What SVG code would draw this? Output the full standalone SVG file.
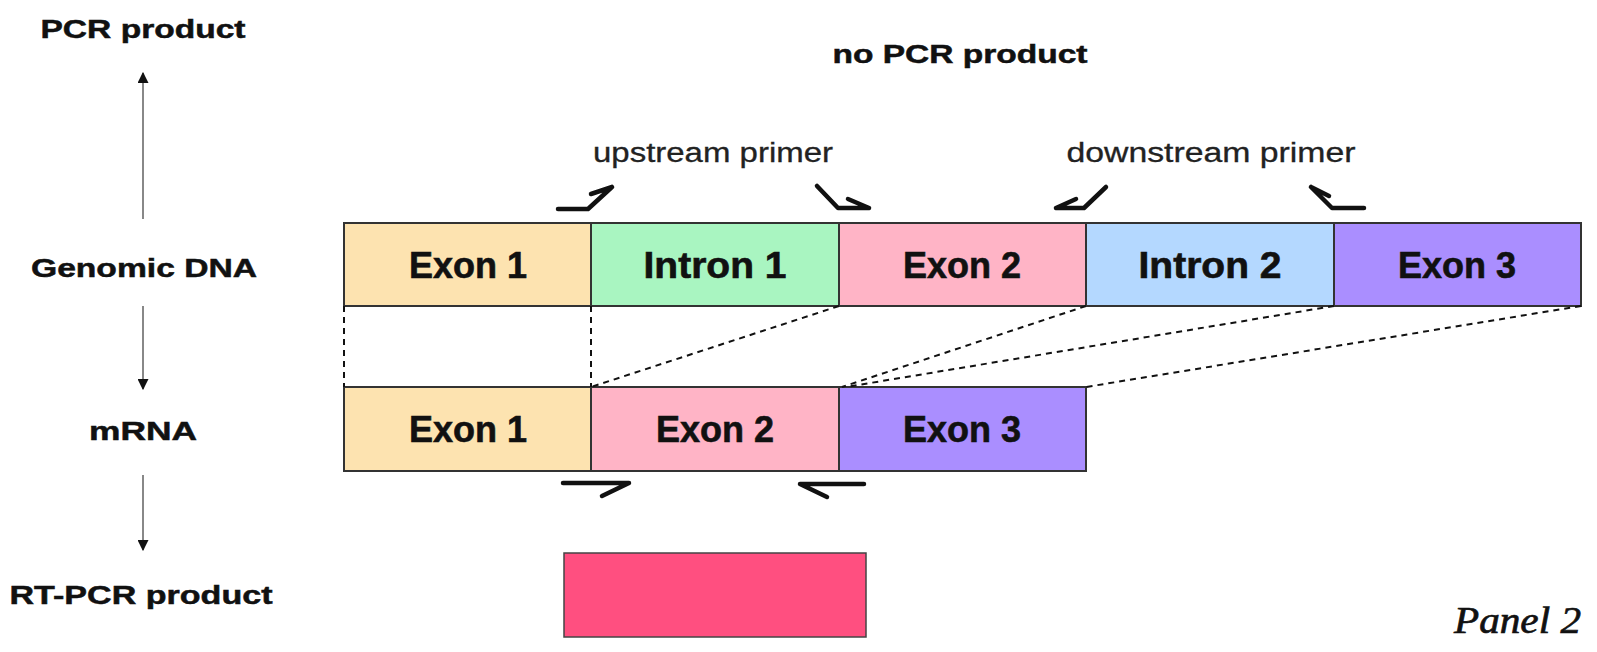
<svg xmlns="http://www.w3.org/2000/svg" width="1597" height="652" viewBox="0 0 1597 652">
  <style>
    .lbl { font-family: "Liberation Sans", Arial, sans-serif; font-weight: bold; font-size: 26px; fill: #111; stroke: #111; stroke-width: 0.5; text-anchor: middle; }
    .seg text { font-family: "Liberation Sans", Arial, sans-serif; font-weight: bold; font-size: 36px; fill: #111; stroke: #111; stroke-width: 0.6; text-anchor: middle; }
    .seg rect { stroke: #333; stroke-width: 2; }
    .primerlbl { font-family: "Liberation Sans", Arial, sans-serif; font-size: 27px; fill: #222; stroke: #222; stroke-width: 0.3; text-anchor: middle; }
    .primer { fill: none; stroke: #111; stroke-width: 4.5; stroke-linecap: round; stroke-linejoin: round; }
    .map { fill: none; stroke: #111; stroke-width: 2; stroke-dasharray: 6 5; }
    .flow { fill: none; stroke: #888; stroke-width: 2; }
    .e1 { fill: #fde3b0; }
    .i1 { fill: #a9f5c1; }
    .e2 { fill: #ffb4c6; }
    .i2 { fill: #b4d8ff; }
    .e3 { fill: #aa8eff; }
  </style>
  <defs>
    <marker id="head" viewBox="0 0 10 10" refX="9" refY="5" markerWidth="11" markerHeight="11" markerUnits="userSpaceOnUse" orient="auto">
      <path d="M0,0 L10,5 L0,10 z" fill="#111"/>
    </marker>
  </defs>

  <rect width="1597" height="652" fill="#fff"/>

  <!-- left column: stage labels -->
  <g id="label-pcr"><text class="lbl" x="143" y="38" textLength="205" lengthAdjust="spacingAndGlyphs">PCR product</text></g>
  <g id="label-genomic"><text class="lbl" x="144" y="277" textLength="226" lengthAdjust="spacingAndGlyphs">Genomic DNA</text></g>
  <g id="label-mrna"><text class="lbl" x="143" y="440" textLength="108" lengthAdjust="spacingAndGlyphs">mRNA</text></g>
  <g id="label-rtpcr"><text class="lbl" x="141" y="604" textLength="263" lengthAdjust="spacingAndGlyphs">RT-PCR product</text></g>
  <g id="label-nopcr"><text class="lbl" x="960" y="63" textLength="255" lengthAdjust="spacingAndGlyphs">no PCR product</text></g>

  <!-- flow arrows between stages -->
  <g id="flow-arrows">
    <line class="flow" x1="143" y1="219" x2="143" y2="73" marker-end="url(#head)"/>
    <line class="flow" x1="143" y1="306" x2="143" y2="389" marker-end="url(#head)"/>
    <line class="flow" x1="143" y1="475" x2="143" y2="550" marker-end="url(#head)"/>
  </g>

  <!-- genomic DNA -->
  <g id="genomic" class="seg">
    <g id="g-exon1"><rect class="e1" x="344" y="223" width="247" height="83"/><text x="468" y="278">Exon 1</text></g>
    <g id="g-intron1"><rect class="i1" x="591" y="223" width="248" height="83"/><text x="715" y="278" textLength="143" lengthAdjust="spacingAndGlyphs">Intron 1</text></g>
    <g id="g-exon2"><rect class="e2" x="839" y="223" width="247" height="83"/><text x="962" y="278">Exon 2</text></g>
    <g id="g-intron2"><rect class="i2" x="1086" y="223" width="248" height="83"/><text x="1210" y="278" textLength="143" lengthAdjust="spacingAndGlyphs">Intron 2</text></g>
    <g id="g-exon3"><rect class="e3" x="1334" y="223" width="247" height="83"/><text x="1457" y="278">Exon 3</text></g>
  </g>

  <!-- mRNA -->
  <g id="mrna" class="seg">
    <g id="m-exon1"><rect class="e1" x="344" y="387" width="247" height="84"/><text x="468" y="442">Exon 1</text></g>
    <g id="m-exon2"><rect class="e2" x="591" y="387" width="248" height="84"/><text x="715" y="442">Exon 2</text></g>
    <g id="m-exon3"><rect class="e3" x="839" y="387" width="247" height="84"/><text x="962" y="442">Exon 3</text></g>
  </g>

  <!-- RT-PCR product -->
  <g id="rtpcr-band">
    <rect x="564" y="553" width="302" height="84" fill="#ff4f80" stroke="#444" stroke-width="1.5"/>
  </g>

  <!-- exon boundary mapping -->
  <g id="connectors">
    <line class="map" x1="344" y1="306" x2="344" y2="387"/>
    <line class="map" x1="591" y1="306" x2="591" y2="387"/>
    <line class="map" x1="839" y1="306" x2="591" y2="387"/>
    <line class="map" x1="1086" y1="306" x2="842" y2="387"/>
    <line class="map" x1="1334" y1="306" x2="846" y2="387"/>
    <line class="map" x1="1581" y1="306" x2="1086" y2="387"/>
  </g>

  <!-- primer labels -->
  <g id="label-up"><text class="primerlbl" x="713" y="162" textLength="240" lengthAdjust="spacingAndGlyphs">upstream primer</text></g>
  <g id="label-down"><text class="primerlbl" x="1211" y="162" textLength="289" lengthAdjust="spacingAndGlyphs">downstream primer</text></g>

  <!-- primers on genomic DNA -->
  <g id="primers-genomic">
    <path class="primer" d="M558,209 H588 L612,187 M612,187 L591,194"/>
    <path class="primer" d="M817,186 L838,208 H869 M869,208 L848,199"/>
    <path class="primer" d="M1106,187 L1084,208 H1056 M1056,208 L1076,199"/>
    <path class="primer" d="M1364,208 H1332 L1311,187 M1311,187 L1329,196"/>
  </g>

  <!-- primers on mRNA -->
  <g id="primers-mrna">
    <path class="primer" d="M563,483 H629 L602,496"/>
    <path class="primer" d="M864,484 H800 L827,497"/>
  </g>

  <g id="panel-label">
    <text x="1581" y="633" text-anchor="end" font-family="Liberation Serif, Times New Roman, serif" font-style="italic" font-size="37" fill="#111" stroke="#111" stroke-width="0.7" textLength="127" lengthAdjust="spacingAndGlyphs">Panel 2</text>
  </g>
</svg>
